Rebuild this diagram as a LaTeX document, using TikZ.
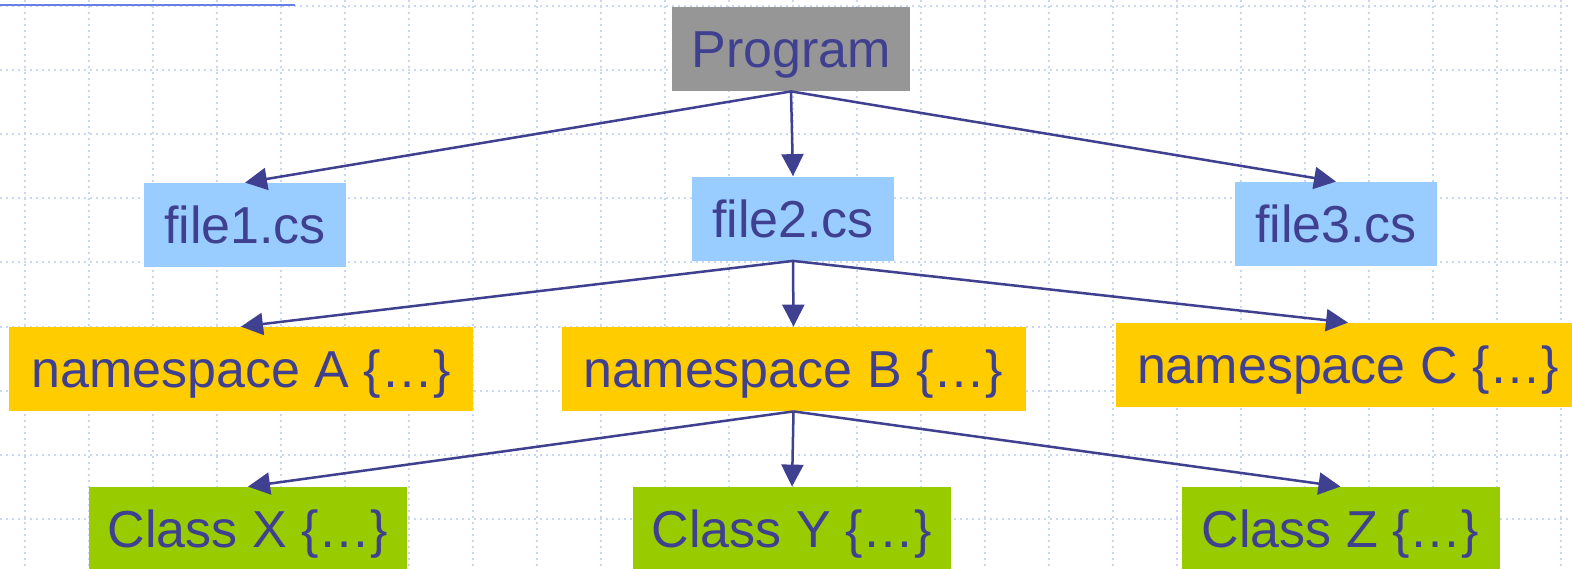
\documentclass[tikz,border=0pt]{standalone}
\usepackage{fontspec}
\setmainfont{Liberation Sans}
\usetikzlibrary{arrows.meta}
\definecolor{ink}{RGB}{64,64,144}
\definecolor{gridblue}{RGB}{200,214,248}
\definecolor{rulerblue}{RGB}{102,128,232}
\definecolor{progfill}{RGB}{150,150,150}
\definecolor{filefill}{RGB}{153,204,255}
\definecolor{nsfill}{RGB}{255,204,0}
\definecolor{classfill}{RGB}{153,204,0}
\tikzset{
  box/.style={inner sep=0pt, text height=18.6pt, text depth=0pt,
    font=\fontsize{26}{30}\selectfont, text=ink, minimum height=42pt},
  progbox/.style={box, fill=progfill, minimum width=119pt},
  filebox/.style={box, fill=filefill, minimum width=101pt},
  nsbox/.style={box, fill=nsfill, minimum width=232pt},
  classbox/.style={box, fill=classfill, minimum width=159pt},
  link/.style={draw=ink, line width=1.25pt, -{Triangle[length=11pt,width=11pt]}},
  gridline/.style={gridblue, line width=1pt, dash pattern=on 1pt off 2pt},
}
\begin{document}
\begin{tikzpicture}[x=0.5pt,y=-0.5pt]
\clip (0,0) rectangle (1572,568);
\fill[white] (0,0) rectangle (1572,568);
% dotted background grid
\foreach \k in {0,...,24} \draw[gridline] ({25+64*\k},0) -- ({25+64*\k},568);
\foreach \k in {0,...,8} \draw[gridline] (0,{6+64.1*\k}) -- (1572,{6+64.1*\k});
% rule at the top left
\draw[rulerblue, line width=1pt] (0,4.5) -- (295,4.5);

% tree nodes
\node[progbox] (prog) at (791,49) {Program};
\node[filebox] (f1) at (245,225) {file1.cs};
\node[filebox] (f2) at (793,218.5) {file2.cs};
\node[filebox] (f3) at (1336,224) {file3.cs};
\node[nsbox] (nsA) at (241,369) {namespace A \{…\}};
\node[nsbox] (nsB) at (793.5,369) {namespace B \{…\}};
\node[nsbox] (nsC) at (1348,365) {namespace C \{…\}};
\node[classbox] (cX) at (248,529) {Class X \{…\}};
\node[classbox] (cY) at (792,529) {Class Y \{…\}};
\node[classbox] (cZ) at (1340.5,529) {Class Z \{…\}};

% connectors
\foreach \t in {f1,f2,f3} \draw[link] (prog.south) -- (\t.north);
\foreach \t in {nsA,nsB,nsC} \draw[link] (f2.south) -- (\t.north);
\foreach \t in {cX,cY,cZ} \draw[link] (nsB.south) -- (\t.north);
\end{tikzpicture}
\end{document}
